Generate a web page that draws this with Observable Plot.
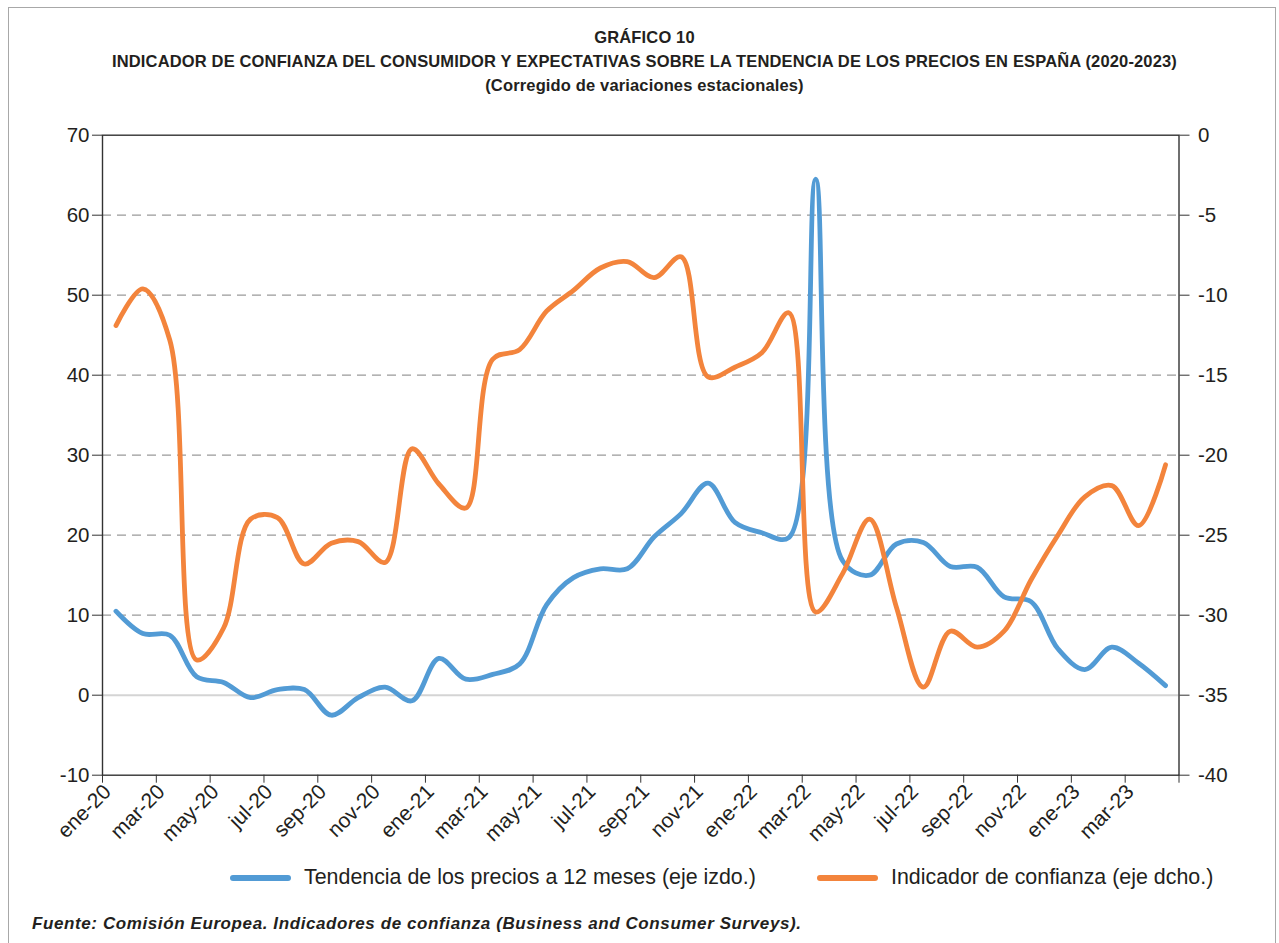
<!DOCTYPE html>
<html>
<head>
<meta charset="utf-8">
<script src="https://cdn.jsdelivr.net/npm/d3@7"></script>
<script src="https://cdn.jsdelivr.net/npm/@observablehq/plot@0.6"></script>
<style>
  html, body { margin: 0; padding: 0; background: #fff; }
  body { width: 1279px; height: 943px; position: relative; overflow: hidden; font-family: "Liberation Sans", Arial, sans-serif; color: #231f20; }
  #border { position: absolute; left: 8px; top: 7px; width: 1268px; height: 960px; border: 1.5px solid #a8a8a8; border-bottom: none; box-sizing: border-box; }
  .title { position: absolute; left: 5px; width: 1279px; text-align: center; font-weight: bold; font-size: 16.5px; letter-spacing: 0.15px; }
  #chart { position: absolute; left: 0; top: 100px; }
  .leg { position: absolute; top: 865px; font-size: 21.4px; display: flex; align-items: center; white-space: nowrap; }
  .sw { width: 61px; height: 6px; border-radius: 3px; margin-right: 13px; }
  #caption { position: absolute; left: 32px; top: 914px; font-size: 17px; letter-spacing: 0.6px; font-weight: bold; font-style: italic; }
</style>
</head>
<body>
<div id="border"></div>
<div class="title" style="top:28px">GRÁFICO 10</div>
<div class="title" style="top:52px">INDICADOR DE CONFIANZA DEL CONSUMIDOR Y EXPECTATIVAS SOBRE LA TENDENCIA DE LOS PRECIOS EN ESPAÑA (2020-2023)</div>
<div class="title" style="top:76px">(Corregido de variaciones estacionales)</div>
<div id="chart"></div>
<div class="leg" style="left:230px"><div class="sw" style="background:#529BD5"></div><span>Tendencia de los precios a 12 meses (eje izdo.)</span></div>
<div class="leg" style="left:817px"><div class="sw" style="background:#F3843C"></div><span>Indicador de confianza (eje dcho.)</span></div>
<div id="caption">Fuente: Comisión Europea. Indicadores de confianza (Business and Consumer Surveys).</div>
<script>
// Months (categories)
const months = [
  "ene-20","feb-20","mar-20","abr-20","may-20","jun-20","jul-20","ago-20","sep-20","oct-20","nov-20","dic-20",
  "ene-21","feb-21","mar-21","abr-21","may-21","jun-21","jul-21","ago-21","sep-21","oct-21","nov-21","dic-21",
  "ene-22","feb-22","mar-22","abr-22","may-22","jun-22","jul-22","ago-22","sep-22","oct-22","nov-22","dic-22",
  "ene-23","feb-23","mar-23","abr-23"
];
// Tendencia de los precios a 12 meses (eje izdo.)
const precios = [
  10.5, 7.7, 7.5, 2.3, 1.6, -0.3, 0.7, 0.7, -2.5, -0.3, 1.0, -0.7,
  4.6, 2.0, 2.6, 3.9, 11.3, 14.7, 15.8, 15.8, 19.8, 22.7, 26.5, 21.6,
  20.3, 19.7, 64.5, 16.8, 15.0, 18.9, 19.1, 16.1, 16.0, 12.3, 11.7, 5.8,
  3.2, 6.0, 4.0, 1.2
];
// Indicador de confianza (eje dcho.)
const confianza = [
  -11.9, -9.6, -12.8, -32.8, -30.8, -24.0, -23.9, -26.8, -25.5, -25.4, -26.7, -19.6,
  -21.8, -23.3, -14.0, -13.4, -11.0, -9.7, -8.3, -7.9, -8.9, -7.6, -15.1, -14.5,
  -13.6, -11.1, -29.8, -27.4, -24.0, -29.5, -34.5, -31.0, -32.0, -31.0, -27.8, -25.0,
  -22.6, -21.9, -24.4, -20.6
];
// Axis ticks
const leftTicks = [-10, 0, 10, 20, 30, 40, 50, 60, 70];
const rightTicks = [-40, -35, -30, -25, -20, -15, -10, -5, 0];
const gridValues = [10, 20, 30, 40, 50, 60];
const xTickLabels = ["ene-20","mar-20","may-20","jul-20","sep-20","nov-20","ene-21","mar-21","may-21","jul-21","sep-21","nov-21","ene-22","mar-22","may-22","jul-22","sep-22","nov-22","ene-23","mar-23",""];

const blue = "#529BD5", orange = "#F3843C";
// right axis maps onto left scale: left = 70 + 2*right
const toLeft = r => 70 + 2 * r;

const data = months.map((m, i) => ({pos: i + 0.5, month: m, precios: precios[i], confianza: confianza[i]}));
const xTicks = xTickLabels.map((_, k) => 2 * k);

const chart = Plot.plot({
  width: 1279,
  height: 760,
  marginLeft: 102,
  marginRight: 100.5,
  marginTop: 34.7,
  marginBottom: 85.3,
  x: {domain: [0, 40]},
  y: {domain: [-10, 70]},
  style: {fontFamily: "'Liberation Sans', Arial, sans-serif", fontSize: "20.5px", color: "#231f20", background: "transparent"},
  marks: [
    Plot.gridY(gridValues, {stroke: "#9a9a9a", strokeOpacity: 1, strokeWidth: 1.3, strokeDasharray: "9,6"}),
    Plot.ruleY([0], {stroke: "#d4d4d4", strokeWidth: 2}),
    Plot.lineY(data, {x: "pos", y: "precios", stroke: blue, strokeWidth: 4.8, curve: "catmull-rom"}),
    Plot.lineY(data, {x: "pos", y: d => toLeft(d.confianza), stroke: orange, strokeWidth: 4.8, curve: "catmull-rom"}),
    Plot.frame({stroke: "#333", strokeWidth: 1.4}),
    Plot.axisY(leftTicks, {anchor: "left", tickSize: 10, tickPadding: 3, tickFormat: v => String(v), label: null, stroke: "#333"}),
    Plot.axisY(rightTicks.map(toLeft), {anchor: "right", tickSize: 10, tickPadding: 9, tickFormat: v => String((v - 70) / 2), label: null, stroke: "#333"}),
    // x tick marks
    Plot.axisX(xTicks, {anchor: "bottom", tickSize: 8, tickFormat: () => "", label: null, stroke: "#333"}),
    // x tick labels (rotated)
    Plot.axisX(xTicks, {anchor: "bottom", tickSize: 0, tickPadding: 12, tickRotate: -45, fontSize: 21, dx: 5, dy: 1, tickFormat: (v, k) => xTickLabels[k], label: null})
  ]
});
document.getElementById("chart").appendChild(chart);
</script>
</body>
</html>
